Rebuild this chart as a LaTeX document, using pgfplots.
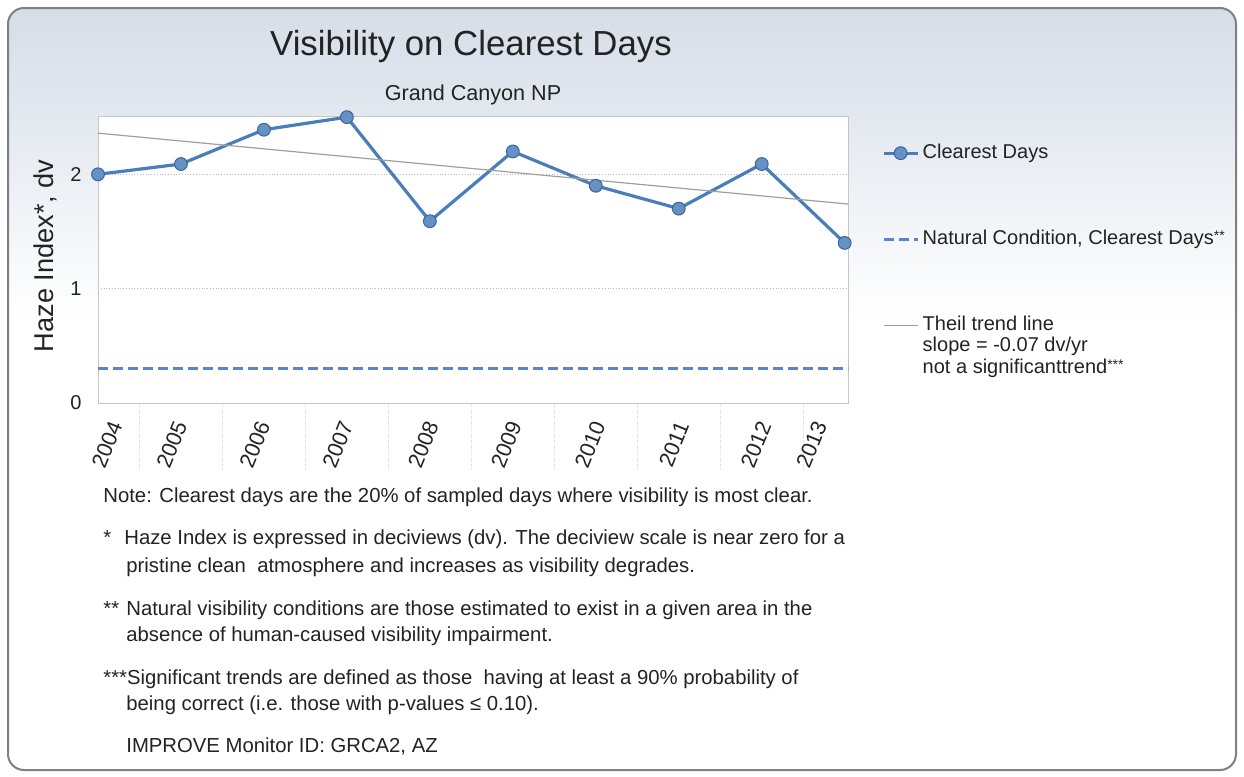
\documentclass[border=0pt]{standalone}
\usepackage{fontspec}
\setmainfont{Liberation Sans}
\usepackage{pgfplots}
\pgfplotsset{compat=1.18}
\definecolor{bgtop}{RGB}{213,221,232}
\definecolor{serblue}{RGB}{74,126,187}
\definecolor{natblue}{RGB}{88,134,204}
\definecolor{txt}{RGB}{35,35,35}
\newcommand{\sast}[1]{\raisebox{0.35ex}{\fontsize{7}{8}\selectfont #1}}
\begin{document}
\begin{tikzpicture}
\begin{scope}[x=0.5pt,y=-0.5pt]
\useasboundingbox (0,0) rectangle (1244,777);
\begin{scope}
\clip[rounded corners=8] (8,8) rectangle (1236,770);
\fill[white] (8,8) rectangle (1236,770);
\shade[top color=bgtop, bottom color=white] (8,8) rectangle (1236,320);
\end{scope}
\draw[rounded corners=8, draw=gray, line width=1pt] (8,8) rectangle (1236,770);
\node[anchor=base, inner sep=0, text=txt, font=\fontsize{17.4}{20}\selectfont] at (471,55.5) {Visibility on Clearest Days};
\node[anchor=base, inner sep=0, text=txt, font=\fontsize{10.8}{13}\selectfont] at (473,100) {Grand Canyon NP};
\end{scope}

\begin{axis}[
  at={(49pt,-201.5pt)}, anchor=south west,
  scale only axis, width=375pt, height=143.5pt,
  xmin=2004, xmax=2013.04, ymin=0, ymax=2.51,
  clip=false,
  axis line style={draw=gray!45},
  axis background/.style={fill=white},
  ytick={0,1,2},
  ymajorgrids, grid style={densely dotted, gray!55},
  xtick={2004.25,2005.03,2006.03,2007.03,2008.06,2009.06,2010.07,2011.08,2012.07,2012.74},
  xticklabels={2004,2005,2006,2007,2008,2009,2010,2011,2012,2013},
  minor xtick={2004.5,2005.5,2006.5,2007.5,2008.5,2009.5,2010.5,2011.5,2012.5},
  major tick length=0pt, minor tick length=33pt,
  tick align=outside, xtick pos=bottom, ytick pos=left,
  minor tick style={gray!35, densely dotted, line width=0.6pt},
  tick label style={font=\fontsize{10}{12}\selectfont, text=txt},
  xticklabel style={yshift=-6.5pt, rotate=68, anchor=east, font=\fontsize{10.8}{12}\selectfont},
  yticklabel style={xshift=-4.7pt},
  /pgf/number format/assume math mode=true,
  ylabel={Haze Index*, dv},
  every axis y label/.style={at={(axis description cs:-0.0707,0.512)}, rotate=90, anchor=center, font=\fontsize{13.6}{16}\selectfont, text=txt},
  legend style={draw=none, fill=none, at={(1.0453,0.908)}, anchor=north west, inner sep=0pt, outer sep=0pt,
    font=\fontsize{10}{12}\selectfont, text=txt,
    nodes={text height=7.4pt, text depth=2.35pt, inner sep=0.5pt}, row sep=0pt,
    /tikz/every odd column/.append style={column sep=1.2pt}},
  legend cell align=left,
]
\addplot[serblue, line width=1.6pt, mark=*, mark size=3.2pt, mark options={fill=serblue!85!white, draw=serblue!80!black, line width=0.5pt}]
  coordinates {(2004,2.0) (2005,2.09) (2006,2.39) (2007,2.5) (2008,1.59) (2009,2.2) (2010,1.9) (2011,1.7) (2012,2.09) (2013,1.4)};
\addlegendentry{Clearest Days}
\addlegendimage{empty legend}\addlegendentry{}
\addlegendimage{empty legend}\addlegendentry{}
\addlegendimage{empty legend}\addlegendentry{}
\addplot[natblue, line width=1.5pt, dash pattern=on 5pt off 2.5pt] coordinates {(2004,0.3) (2013.04,0.3)};
\addlegendentry{Natural Condition, Clearest Days\sast{**}}
\addlegendimage{empty legend}\addlegendentry{}
\addlegendimage{empty legend}\addlegendentry{}
\addlegendimage{empty legend}\addlegendentry{}
\addplot[gray!75, line width=0.6pt] coordinates {(2004,2.36) (2013.04,1.74)};
\addlegendentry{Theil trend line}
\addlegendimage{empty legend}\addlegendentry{slope = -0.07 dv/yr}
\addlegendimage{empty legend}\addlegendentry{not a significanttrend\sast{***}}
\end{axis}

\begin{scope}[x=0.5pt,y=-0.5pt, every node/.style={anchor=base west, inner sep=0, text=txt, font=\fontsize{10.15}{12}\selectfont}]
\node at (103,502) {Note: Clearest days are the 20\% of sampled days where visibility is most clear.};
\node at (103,544) {*};
\node at (124,544) {Haze Index is expressed in deciviews (dv). The deciview scale is near zero for a};
\node at (126,572) {pristine clean\ \ atmosphere and increases as visibility degrades.};
\node at (103,615) {**};
\node at (126,615) {Natural visibility conditions are those estimated to exist in a given area in the};
\node at (126,641) {absence of human-caused visibility impairment.};
\node at (103,684) {***Significant trends are defined as those\ \ having at least a 90\% probability of};
\node at (126,710) {being correct (i.e. those with p-values ≤ 0.10).};
\node at (126,752) {IMPROVE Monitor ID: GRCA2, AZ};
\end{scope}
\end{tikzpicture}
\end{document}
